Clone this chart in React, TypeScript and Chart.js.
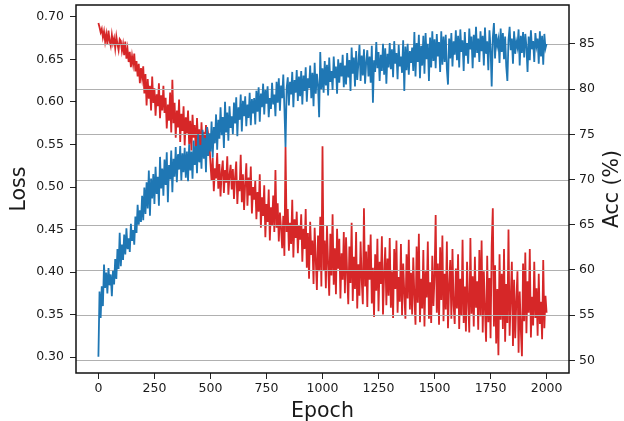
import React, { useEffect, useRef } from 'react';
import { Chart, registerables } from 'chart.js';

Chart.register(...registerables);

const EPOCH_STEP = 5;

const lossValues = [
  0.693, 0.688, 0.682, 0.686, 0.676, 0.683, 0.671, 0.680, 0.668, 0.684, 0.672, 0.666, 0.679, 0.669, 0.675, 0.663, 0.677, 0.668, 0.661, 0.674,
  0.672, 0.660, 0.668, 0.655, 0.671, 0.651, 0.662, 0.647, 0.659, 0.641, 0.654, 0.644, 0.657, 0.636, 0.648, 0.630, 0.645, 0.622, 0.640, 0.628,
  0.642, 0.610, 0.633, 0.596, 0.627, 0.604, 0.619, 0.590, 0.630, 0.599, 0.616, 0.584, 0.609, 0.595, 0.622, 0.581, 0.608, 0.590, 0.619, 0.587,
  0.605, 0.569, 0.597, 0.578, 0.611, 0.564, 0.626, 0.575, 0.599, 0.558, 0.590, 0.570, 0.603, 0.553, 0.586, 0.566, 0.595, 0.549, 0.582, 0.563,
  0.590, 0.550, 0.578, 0.543, 0.585, 0.558, 0.573, 0.539, 0.581, 0.551, 0.568, 0.536, 0.576, 0.547, 0.565, 0.540, 0.573, 0.546, 0.562, 0.553,
  0.528, 0.507, 0.534, 0.495, 0.522, 0.510, 0.540, 0.498, 0.527, 0.489, 0.518, 0.531, 0.493, 0.520, 0.505, 0.536, 0.491, 0.514, 0.526, 0.497,
  0.521, 0.486, 0.512, 0.530, 0.480, 0.508, 0.495, 0.538, 0.482, 0.515, 0.473, 0.504, 0.528, 0.478, 0.511, 0.490, 0.524, 0.469, 0.500, 0.485,
  0.507, 0.462, 0.494, 0.471, 0.515, 0.452, 0.488, 0.466, 0.502, 0.441, 0.480, 0.459, 0.497, 0.437, 0.476, 0.455, 0.490, 0.447, 0.520, 0.452,
  0.481, 0.436, 0.470, 0.452, 0.428, 0.466, 0.419, 0.547, 0.447, 0.474, 0.425, 0.458, 0.433, 0.485, 0.417, 0.462, 0.440, 0.471, 0.422, 0.455,
  0.438, 0.468, 0.412, 0.451, 0.427, 0.474, 0.405, 0.446, 0.392, 0.459, 0.420, 0.437, 0.386, 0.452, 0.414, 0.379, 0.443, 0.401, 0.465, 0.383,
  0.548, 0.402, 0.437, 0.381, 0.454, 0.410, 0.372, 0.445, 0.396, 0.468, 0.385, 0.428, 0.374, 0.451, 0.404, 0.439, 0.369, 0.422, 0.391, 0.447,
  0.375, 0.441, 0.399, 0.362, 0.430, 0.387, 0.458, 0.366, 0.418, 0.380, 0.447, 0.357, 0.409, 0.372, 0.436, 0.391, 0.362, 0.475, 0.383, 0.424,
  0.359, 0.432, 0.391, 0.444, 0.363, 0.405, 0.347, 0.421, 0.378, 0.439, 0.354, 0.412, 0.386, 0.442, 0.350, 0.397, 0.429, 0.361, 0.416, 0.372,
  0.440, 0.358, 0.401, 0.346, 0.427, 0.380, 0.437, 0.352, 0.394, 0.365, 0.433, 0.349, 0.410, 0.376, 0.345, 0.421, 0.369, 0.438, 0.356, 0.399,
  0.350, 0.417, 0.372, 0.338, 0.430, 0.364, 0.445, 0.341, 0.392, 0.357, 0.426, 0.336, 0.401, 0.370, 0.436, 0.345, 0.388, 0.340, 0.419, 0.360,
  0.395, 0.467, 0.352, 0.410, 0.338, 0.429, 0.367, 0.443, 0.342, 0.398, 0.356, 0.436, 0.334, 0.383, 0.414, 0.345, 0.427, 0.361, 0.339, 0.404,
  0.357, 0.421, 0.333, 0.392, 0.349, 0.438, 0.340, 0.383, 0.330, 0.412, 0.366, 0.329, 0.440, 0.351, 0.395, 0.336, 0.418, 0.358, 0.389, 0.332,
  0.426, 0.348, 0.437, 0.329, 0.401, 0.355, 0.318, 0.419, 0.341, 0.393, 0.322, 0.431, 0.475, 0.336, 0.408, 0.316, 0.380, 0.302, 0.421, 0.344,
  0.398, 0.333, 0.427, 0.318, 0.386, 0.340, 0.450, 0.325, 0.369, 0.412, 0.313, 0.391, 0.322, 0.366, 0.401, 0.305, 0.377, 0.332, 0.301, 0.410,
  0.342, 0.423, 0.328, 0.389, 0.352, 0.427, 0.323, 0.371, 0.337, 0.412, 0.346, 0.381, 0.325, 0.398, 0.339, 0.365, 0.321, 0.414, 0.334, 0.372,
  0.352,
];

const accValues = [
  50.4, 57.6, 54.7, 58.2, 56.0, 60.6, 58.0, 59.7, 57.4, 60.2, 58.3, 59.5, 57.1, 59.9, 58.4, 61.2, 59.0, 62.3, 60.1, 64.1,
  60.4, 62.8, 61.1, 63.9, 61.7, 64.6, 62.3, 63.5, 62.0, 65.1, 63.2, 64.4, 62.8, 65.9, 64.1, 67.2, 65.0, 66.6, 65.3, 68.2,
  65.5, 69.1, 66.2, 69.7, 66.8, 71.0, 66.0, 70.1, 67.9, 70.6, 67.3, 71.4, 68.4, 70.3, 67.1, 72.5, 69.0, 71.2, 68.2, 72.2,
  69.4, 73.0, 67.5, 71.6, 70.0, 73.2, 68.6, 72.3, 70.3, 73.6, 69.7, 72.8, 71.1, 73.7, 69.9, 72.9, 70.8, 73.5, 70.2, 73.1,
  69.8, 73.9, 71.0, 73.1, 70.1, 74.3, 71.6, 73.7, 70.7, 75.0, 71.9, 73.8, 71.2, 75.5, 72.3, 74.6, 70.8, 75.8, 72.6, 75.1,
  73.1, 76.4, 72.4, 75.8, 74.0, 77.2, 73.3, 76.6, 74.5, 78.0, 74.9, 76.9, 73.5, 78.6, 75.2, 77.4, 74.3, 78.1, 75.7, 77.0,
  75.0, 78.5, 76.2, 79.1, 74.8, 78.0, 76.6, 79.4, 75.3, 78.7, 77.0, 79.2, 75.9, 78.3, 76.8, 79.6, 76.0, 78.9, 77.3, 79.0,
  76.1, 79.8, 77.5, 80.2, 76.4, 79.5, 78.0, 80.6, 77.2, 79.9, 78.4, 80.3, 76.9, 79.0, 77.8, 80.7, 78.3, 79.4, 77.0, 80.8,
  78.5, 81.2, 77.6, 80.4, 79.0, 81.6, 77.9, 73.6, 80.1, 81.3, 78.2, 80.8, 79.4, 81.9, 78.0, 81.0, 79.6, 82.1, 78.7, 81.4,
  79.2, 82.0, 78.3, 81.5, 79.8, 82.4, 78.6, 81.2, 80.1, 82.6, 79.0, 81.8, 78.1, 82.9, 79.5, 81.7, 80.4, 76.9, 84.1, 80.0,
  82.3, 79.6, 83.1, 80.4, 82.7, 79.3, 83.5, 80.8, 82.0, 79.9, 83.6, 81.2, 82.5, 79.5, 83.3, 80.7, 82.9, 81.4, 83.8, 80.2,
  82.6, 80.5, 84.0, 81.3, 83.2, 79.8, 84.6, 81.7, 83.5, 80.3, 84.2, 81.0, 82.8, 84.9, 80.9, 83.7, 81.5, 84.4, 80.6, 83.0,
  84.3, 81.4, 83.6, 80.7, 84.8, 78.5, 83.2, 81.9, 85.2, 82.3, 84.1, 80.9, 83.8, 82.0, 85.0, 81.6, 84.5, 80.6, 83.9, 82.4,
  85.1, 82.2, 84.4, 81.3, 85.3, 82.8, 84.0, 81.1, 84.9, 82.5, 83.6, 81.8, 85.4, 79.8, 84.7, 82.1, 85.0, 81.6, 84.2, 82.9,
  84.6, 82.0, 86.3, 81.4, 85.1, 83.0, 86.0, 81.2, 84.8, 82.6, 85.9, 81.7, 86.2, 83.3, 85.0, 80.9, 85.7, 82.4, 86.4, 83.1,
  85.5, 82.3, 86.1, 83.6, 85.2, 81.9, 86.4, 82.7, 85.8, 83.0, 86.0, 82.2, 80.5, 85.6, 83.4, 86.2, 82.5, 85.3, 83.8, 86.5,
  83.2, 85.9, 82.4, 86.6, 84.1, 85.4, 82.0, 86.3, 83.7, 85.1, 82.8, 86.7, 84.4, 85.8, 82.3, 86.0, 83.5, 86.9, 84.0, 85.6,
  83.0, 86.4, 84.2, 85.9, 82.6, 86.8, 83.9, 85.3, 82.1, 86.5, 84.5, 80.3, 85.7, 87.3, 83.4, 86.1, 84.8, 85.5, 82.9, 86.7,
  84.1, 86.2, 83.3, 85.8, 82.5, 80.9, 85.4, 86.9, 84.3, 85.6, 82.8, 86.4, 83.9, 85.2, 84.6, 86.6, 82.6, 85.9, 84.0, 86.3,
  83.5, 86.1, 84.7, 81.9, 85.8, 83.2, 86.5, 84.4, 85.3, 83.0, 86.2, 84.8, 85.6, 82.8, 86.4, 83.6, 85.9, 82.7, 86.1, 84.5,
  85.0,
];

const epochs = lossValues.map((_, i) => i * EPOCH_STEP);

const xTicks = [0, 250, 500, 750, 1000, 1250, 1500, 1750, 2000];
const lossTicks = [0.3, 0.35, 0.4, 0.45, 0.5, 0.55, 0.6, 0.65, 0.7];
const accTicks = [50, 55, 60, 65, 70, 75, 80, 85];

const xRange = [-100, 2100];
const lossRange = [0.2812, 0.7141];
const accRange = [48.6, 89.3];

const FONT = '"DejaVu Sans", sans-serif';
const TEXT = '#1a1a1a';
const RED = '#d62728';
const BLUE = '#1f77b4';

const overlayPlugin = {
  id: 'overlay',
  beforeDatasetDraw(chart: any, args: any) {
    if (args.index !== 0) return;
    const { ctx, chartArea } = chart;
    const yScale = chart.scales.yAcc;
    ctx.save();
    ctx.strokeStyle = '#b0b0b0';
    ctx.lineWidth = 1;
    accTicks.forEach((v) => {
      const y = Math.round(yScale.getPixelForValue(v)) + 0.5;
      ctx.beginPath();
      ctx.moveTo(chartArea.left, y);
      ctx.lineTo(chartArea.right, y);
      ctx.stroke();
    });
    ctx.restore();
  },
  afterDraw(chart: any) {
    const { ctx, chartArea } = chart;
    ctx.save();
    ctx.strokeStyle = '#111';
    ctx.lineWidth = 1.5;
    ctx.strokeRect(chartArea.left, chartArea.top, chartArea.right - chartArea.left, chartArea.bottom - chartArea.top);
    ctx.fillStyle = TEXT;
    ctx.font = `20.5px ${FONT}`;
    ctx.textAlign = 'center';
    ctx.textBaseline = 'middle';
    ctx.translate(chartArea.right + 44, (chartArea.top + chartArea.bottom) / 2);
    ctx.rotate(-Math.PI / 2);
    ctx.fillText('Acc (%)', 0, 0);
    ctx.restore();
  },
};

const noPad = (s: any) => {
  s.paddingTop = 0;
  s.paddingBottom = 0;
  s.paddingLeft = 0;
  s.paddingRight = 0;
};

export default function App() {
  const canvasRef = useRef<HTMLCanvasElement | null>(null);

  useEffect(() => {
    const canvas = canvasRef.current;
    if (!canvas) return;
    const accData = epochs.map((e, i) => ({ x: e, y: accValues[i] }));
    const lossData = epochs.map((e, i) => ({ x: e, y: lossValues[i] }));
    const tickFont = { family: FONT, size: 12.5 };
    const titleFont = { family: FONT, size: 20.5 };
    const tickGrid = {
      display: true,
      drawOnChartArea: false,
      drawTicks: true,
      tickLength: 6,
      tickColor: '#222',
      tickWidth: 1,
    };

    const chart = new Chart(canvas, {
      type: 'line',
      data: {
        datasets: [
          {
            label: 'Acc',
            data: accData,
            yAxisID: 'yAcc',
            borderColor: BLUE,
            borderWidth: 1.8,
            pointRadius: 0,
            tension: 0,
            fill: false,
            order: 0,
          },
          {
            label: 'Loss',
            data: lossData,
            yAxisID: 'yLoss',
            borderColor: RED,
            borderWidth: 1.8,
            pointRadius: 0,
            tension: 0,
            fill: false,
            order: 1,
          },
        ],
      },
      options: {
        animation: false,
        responsive: false,
        devicePixelRatio: 1,
        layout: { padding: { top: 5, left: 0, right: 0, bottom: 0 } },
        plugins: {
          legend: { display: false },
          tooltip: { enabled: false },
        },
        scales: {
          x: {
            type: 'linear',
            min: xRange[0],
            max: xRange[1],
            afterBuildTicks: (s: any) => {
              s.ticks = xTicks.map((v) => ({ value: v }));
            },
            afterFit: (s: any) => {
              s.height = 48;
              noPad(s);
            },
            grid: tickGrid,
            border: { display: false },
            ticks: {
              font: tickFont,
              color: TEXT,
              padding: 2,
              maxRotation: 0,
              autoSkip: false,
              callback: (v: any) => String(v),
            },
            title: {
              display: true,
              text: 'Epoch',
              font: titleFont,
              color: TEXT,
              padding: { top: 0, bottom: -3 },
            },
          },
          yLoss: {
            type: 'linear',
            position: 'left',
            min: lossRange[0],
            max: lossRange[1],
            afterBuildTicks: (s: any) => {
              s.ticks = lossTicks.map((v) => ({ value: v }));
            },
            afterFit: (s: any) => {
              s.width = 76;
              noPad(s);
            },
            grid: tickGrid,
            border: { display: false },
            ticks: {
              font: tickFont,
              color: TEXT,
              padding: 6,
              autoSkip: false,
              callback: (v: any) => Number(v).toFixed(2),
            },
            title: {
              display: true,
              text: 'Loss',
              font: titleFont,
              color: TEXT,
              padding: { top: 7.3, bottom: 0 },
            },
          },
          yAcc: {
            type: 'linear',
            position: 'right',
            min: accRange[0],
            max: accRange[1],
            afterBuildTicks: (s: any) => {
              s.ticks = accTicks.map((v) => ({ value: v }));
            },
            afterFit: (s: any) => {
              s.width = 55;
              noPad(s);
            },
            grid: tickGrid,
            border: { display: false },
            ticks: {
              font: tickFont,
              color: TEXT,
              padding: 4,
              autoSkip: false,
              callback: (v: any) => String(v),
            },
          },
        },
      },
      plugins: [overlayPlugin],
    } as any);

    return () => chart.destroy();
  }, []);

  return (
    <div style={{ position: 'absolute', left: 0, top: 0, width: 624, height: 421, background: '#fff' }}>
      <canvas ref={canvasRef} width={624} height={421} style={{ display: 'block' }} />
    </div>
  );
}
